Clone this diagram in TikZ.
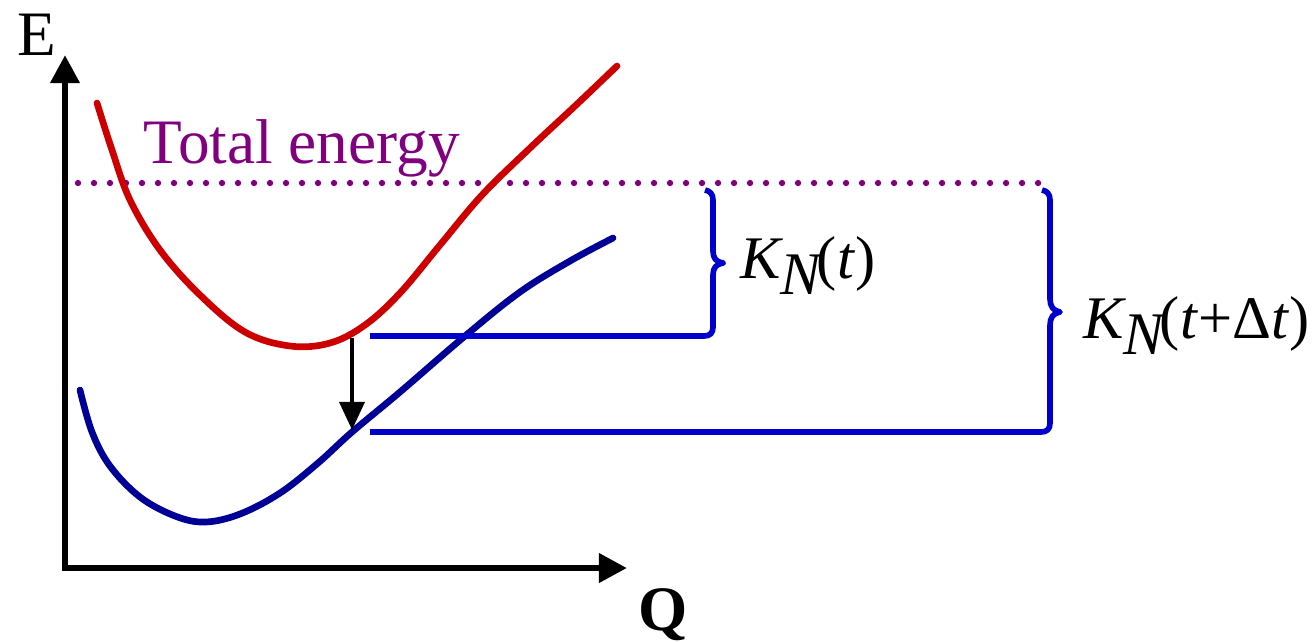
\documentclass[tikz,border=0pt]{standalone}
\usepackage{fontspec}
\setmainfont{Liberation Serif}
\usetikzlibrary{arrows.meta}
\definecolor{redc}{RGB}{204,0,0}
\definecolor{bluec}{RGB}{0,0,150}
\definecolor{bracec}{RGB}{0,0,204}
\definecolor{purplec}{RGB}{128,0,128}
\tikzset{
  axis/.style={line width=1.9pt,-{Triangle[length=8pt,width=8pt]}},
  curve/.style={line width=1.9pt,line cap=round},
  bracepath/.style={line width=1.6pt,bracec,line join=round},
  lbl/.style={inner sep=0pt,font=\fontsize{18}{20}\selectfont},
  klbl/.style={inner sep=0pt,font=\fontsize{17.2}{20}\selectfont},
}
\newcommand{\KN}{\textit{K}\kern-0.8pt\raisebox{-4.8pt}{\textit{N}}\kern-2pt}
\begin{document}
\begin{tikzpicture}[x=0.01cm,y=-0.01cm]
\useasboundingbox (0,0) rectangle (1313,641);
% axes
\coordinate (o) at (65,568);
\coordinate (ytip) at (65,55);
\coordinate (xtip) at (627,568);
\draw[axis] (65,571) -- (ytip);
\draw[axis] (62,568) -- (xtip);
\node[lbl,anchor=base] (E) at (37,55) {E};
\node[lbl,anchor=base,font=\fontsize{18}{20}\selectfont\bfseries] (Q) at (663,630) {Q};
% total energy
\node[lbl,anchor=base west,text=purplec] (TE) at (143,163) {Total energy};
\coordinate (d1) at (78,183);
\coordinate (d2) at (1045,183);
\draw[purplec,line width=1.8pt,line cap=round,dash pattern=on 0pt off 4.55pt] (d1) -- (d2);
% red curve
\draw[curve,redc] plot[smooth,tension=0.6] coordinates {(97,103) (112,150) (130,200) (160,250) (200,295) (245,332) (290,346) (330,343) (365,325) (400,293) (440,245) (482,195) (530,148) (575,106) (617,66)};
% blue curve
\draw[curve,bluec] plot[smooth,tension=0.6] coordinates {(80,390) (92,432) (110,466) (140,497) (175,516) (205,522) (240,514) (280,493) (318,463) (352,432) (400,392) (465,336) (520,292) (570,261) (613,238)};
% transition arrow
\coordinate (a1) at (352,338);
\coordinate (a2) at (352,430);
\draw[line width=1.4pt,-{Triangle[length=8pt,width=7pt]}] (a1) -- (a2);
% braces
\coordinate (h1) at (370,336);
\coordinate (h2) at (370,432);
\draw[bracepath] (h1) -- (704,336) .. controls (710,336) and (713,333) .. (713,327) -- (713,275) .. controls (713,268) and (716,264) .. (723,263) .. controls (716,262) and (713,258) .. (713,251) -- (713,200) .. controls (713,194) and (710,191) .. (705,190);
\draw[bracepath] (h2) -- (1041,432) .. controls (1047,432) and (1050,429) .. (1050,423) -- (1050,325) .. controls (1050,318) and (1053,313) .. (1060,312) .. controls (1053,311) and (1050,306) .. (1050,299) -- (1050,200) .. controls (1050,194) and (1047,191) .. (1042,190);
\node[klbl,anchor=base west] (K1) at (740,278) {\KN(\textit{t})};
\node[klbl,anchor=base west] (K2) at (1083,338) {\KN(\textit{t}+Δ\textit{t})};
\end{tikzpicture}
\end{document}
